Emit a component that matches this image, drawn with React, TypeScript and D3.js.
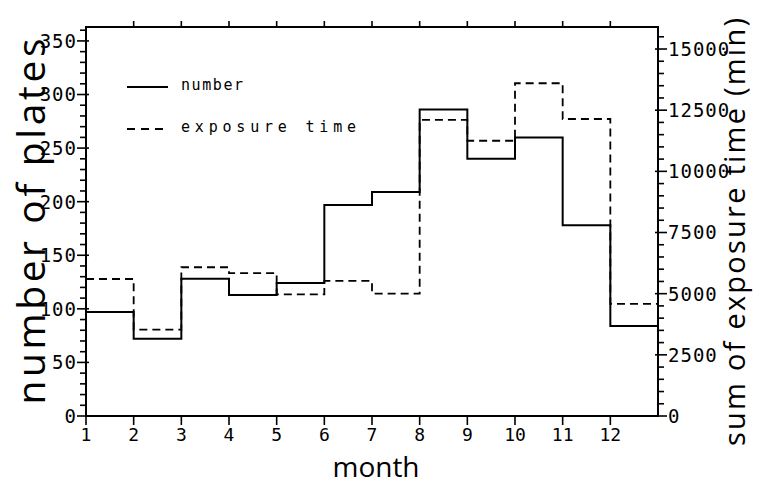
import React, { useEffect, useRef } from 'react';
import * as d3 from 'd3';

const months = [1, 2, 3, 4, 5, 6, 7, 8, 9, 10, 11, 12];
const plateCounts = [97, 72, 128, 113, 124, 197, 209, 286, 240, 260, 178, 84];
const exposureMinutes = [5600, 3530, 6080, 5840, 4970, 5520, 5000, 12100, 11250, 13600, 12140, 4580];
const leftTicks = [0, 50, 100, 150, 200, 250, 300, 350];
const rightTicks = [0, 2500, 5000, 7500, 10000, 12500, 15000];
const legendLabels = ['number', 'exposure time'];

const App: React.FC = () => {
  const svgRef = useRef<SVGSVGElement>(null);

  useEffect(() => {
    if (!svgRef.current) return;
    document.body.style.margin = '0';

    const width = 759;
    const height = 486;
    const margin = { top: 27, right: 101, bottom: 70, left: 86 };
    const tickFont = '"DejaVu Sans Mono", monospace';
    const titleFont = '"Open Sans", sans-serif';

    const svg = d3.select(svgRef.current);
    svg.selectAll('*').remove();

    const x = d3.scaleLinear().domain([1, 13]).range([margin.left, width - margin.right]);
    const yL = d3.scaleLinear().domain([0, 363]).range([height - margin.bottom, margin.top]);
    const yR = d3.scaleLinear().domain([0, 15900]).range([height - margin.bottom, margin.top]);

    const x0 = x(1), x1 = x(13), yb = yL(0), yt = yL(363);

    // frame
    svg.append('rect')
      .attr('x', x0).attr('y', yt)
      .attr('width', x1 - x0).attr('height', yb - yt)
      .attr('fill', 'none').attr('stroke', '#000').attr('stroke-width', 2);

    // left axis ticks
    const leftMinor = d3.range(0, 361, 10);
    svg.append('g').selectAll('line')
      .data(leftMinor)
      .enter().append('line')
      .attr('x1', d => d % 50 === 0 ? x0 - 9 : x0 - 6)
      .attr('x2', d => d % 50 === 0 ? x0 + 3 : x0)
      .attr('y1', d => yL(d)).attr('y2', d => yL(d))
      .attr('stroke', '#000').attr('stroke-width', 1.6);

    svg.append('g').selectAll('text')
      .data(leftTicks)
      .enter().append('text')
      .attr('x', x0 - 9)
      .attr('y', d => yL(d))
      .attr('dy', '0.36em')
      .attr('text-anchor', 'end')
      .attr('font-family', tickFont)
      .attr('font-size', 19)
      .attr('letter-spacing', 1)
      .text(d => d);

    // right axis ticks
    const rightMinor = d3.range(0, 15801, 500);
    svg.append('g').selectAll('line')
      .data(rightMinor)
      .enter().append('line')
      .attr('x1', d => d % 2500 === 0 ? x1 - 3 : x1)
      .attr('x2', d => d % 2500 === 0 ? x1 + 9 : x1 + 6)
      .attr('y1', d => yR(d)).attr('y2', d => yR(d))
      .attr('stroke', '#000').attr('stroke-width', 1.6);

    svg.append('g').selectAll('text')
      .data(rightTicks)
      .enter().append('text')
      .attr('x', x1 + 10)
      .attr('y', d => yR(d))
      .attr('dy', '0.36em')
      .attr('text-anchor', 'start')
      .attr('font-family', tickFont)
      .attr('font-size', 19)
      .attr('letter-spacing', 1)
      .text(d => d);

    // month ticks, bottom and top
    svg.append('g').selectAll('line')
      .data(months)
      .enter().append('line')
      .attr('x1', d => x(d)).attr('x2', d => x(d))
      .attr('y1', yb).attr('y2', yb + 9)
      .attr('stroke', '#000').attr('stroke-width', 1.6);

    svg.append('g').selectAll('line')
      .data(months.slice(1))
      .enter().append('line')
      .attr('x1', d => x(d)).attr('x2', d => x(d))
      .attr('y1', yt).attr('y2', yt - 6)
      .attr('stroke', '#000').attr('stroke-width', 1.6);

    svg.append('g').selectAll('text')
      .data(months)
      .enter().append('text')
      .attr('x', d => x(d))
      .attr('y', yb + 25)
      .attr('text-anchor', 'middle')
      .attr('font-family', tickFont)
      .attr('font-size', 18)
      .text(d => d);

    // step lines
    const stepLine = (scale: d3.ScaleLinear<number, number>) => d3.line<[number, number]>()
      .x(d => x(d[0]))
      .y(d => scale(d[1]))
      .curve(d3.curveStepAfter);

    const numberPts: [number, number][] = months.map((m, i) => [m, plateCounts[i]]);
    numberPts.push([13, plateCounts[plateCounts.length - 1]]);
    const expoPts: [number, number][] = months.map((m, i) => [m, exposureMinutes[i]]);
    expoPts.push([13, exposureMinutes[exposureMinutes.length - 1]]);

    svg.append('path')
      .attr('d', stepLine(yR)(expoPts))
      .attr('fill', 'none').attr('stroke', '#000').attr('stroke-width', 1.8)
      .attr('stroke-dasharray', '8,5');

    svg.append('path')
      .attr('d', stepLine(yL)(numberPts))
      .attr('fill', 'none').attr('stroke', '#000').attr('stroke-width', 2);

    // legend
    const legend = svg.append('g');
    legend.append('line')
      .attr('x1', 127).attr('x2', 168).attr('y1', 87).attr('y2', 87)
      .attr('stroke', '#000').attr('stroke-width', 2);
    legend.append('line')
      .attr('x1', 127).attr('x2', 163).attr('y1', 129).attr('y2', 129)
      .attr('stroke', '#000').attr('stroke-width', 2)
      .attr('stroke-dasharray', '8,6');
    legend.selectAll('text')
      .data(legendLabels)
      .enter().append('text')
      .attr('x', 181)
      .attr('y', (d, i) => 90 + i * 42)
      .attr('font-family', tickFont)
      .attr('font-size', 15)
      .attr('textLength', (d, i) => i === 0 ? 62 : 175)
      .attr('lengthAdjust', 'spacing')
      .text(d => d);

    // axis titles
    svg.append('text')
      .attr('transform', `translate(45,${(yb + yt) / 2}) rotate(-90)`)
      .attr('text-anchor', 'middle')
      .attr('font-family', titleFont)
      .attr('font-size', 39)
      .attr('textLength', 366)
      .attr('lengthAdjust', 'spacing')
      .text('number of plates');

    svg.append('text')
      .attr('transform', `translate(745,${232}) rotate(-90)`)
      .attr('text-anchor', 'middle')
      .attr('font-family', titleFont)
      .attr('font-size', 29)
      .attr('textLength', 428)
      .attr('lengthAdjust', 'spacing')
      .text('sum of exposure time (min)');

    svg.append('text')
      .attr('x', 376)
      .attr('y', 477)
      .attr('text-anchor', 'middle')
      .attr('font-family', titleFont)
      .attr('font-size', 28)
      .text('month');
  }, []);

  return <svg ref={svgRef} width={759} height={486} style={{ display: 'block', background: '#fff' }} />;
};

export default App;
